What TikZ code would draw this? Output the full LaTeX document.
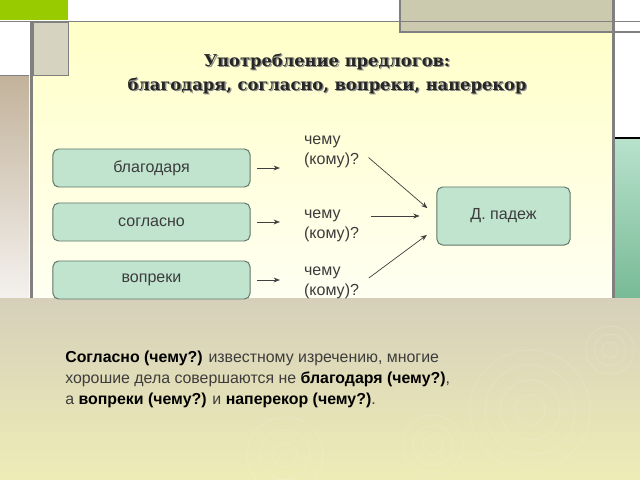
\documentclass[tikz,border=0pt]{standalone}
\usepackage{fontspec}
\setmainfont{Liberation Sans}
\newfontfamily\titlefont{DejaVu Serif}
\usetikzlibrary{arrows.meta,positioning}

\definecolor{boxfill}{RGB}{192,228,206}
\definecolor{boxline}{RGB}{98,118,104}
\definecolor{frame}{RGB}{128,128,128}
\definecolor{leaf}{RGB}{153,204,0}
\definecolor{sand}{RGB}{203,201,174}
\definecolor{textgray}{RGB}{60,60,60}

\newcommand\prepbf[1]{\textbf{\color{black}#1}}

\begin{document}
\begin{tikzpicture}[x=0.025cm, y=-0.025cm,
  prep/.style={draw=boxline, fill=boxfill, line width=0.7pt, rounded corners=4pt,
    minimum width=4.925cm, minimum height=0.95cm, text=textgray,
    font=\fontsize{11.4pt}{14pt}\selectfont},
  quest/.style={anchor=west, align=left, text=textgray, inner sep=2pt,
    font=\fontsize{11.4pt}{14.2pt}\selectfont},
  arr/.style={-{Stealth[length=4.5pt,width=3.5pt]}, draw=black!75, line width=0.5pt},
  ripple/.style={draw=white, opacity=0.12, line width=0.8pt}]
\useasboundingbox (0,0) rectangle (640,480);

% background
\fill[white] (0,0) rectangle (640,480);
\fill[leaf] (0,0) rectangle (68,20);
\fill[sand] (400,0) rectangle (613,32);
\shade[top color={rgb,255:red,255;green,255;blue,200}, bottom color={rgb,255:red,255;green,255;blue,242}]
  (33,22) rectangle (612,298);
\fill[sand] (400,22) rectangle (612,32);
\shade[top color={rgb,255:red,194;green,178;blue,154}, bottom color={rgb,255:red,244;green,241;blue,238}]
  (0,75) rectangle (29,298);
\filldraw[fill={rgb,255:red,214;green,212;blue,192}, draw=frame, line width=0.7pt]
  (33,22) rectangle (68,75);
\shade[top color={rgb,255:red,184;green,226;blue,204}, bottom color={rgb,255:red,120;green,186;blue,150}]
  (615,138) rectangle (640,298);
\draw[black, line width=0.8pt] (615,138) -- (640,138);
\shade[top color={rgb,255:red,214;green,208;blue,186}, bottom color={rgb,255:red,238;green,236;blue,182}]
  (0,298) rectangle (640,480);
\draw[frame, line width=1.4pt] (0,21.5) -- (640,21.5);
\draw[frame, line width=1pt] (400,0) -- (400,32) -- (640,32);
\draw[frame, line width=2.1pt] (31.5,21) -- (31.5,298);
\draw[frame, line width=2.1pt] (613.5,0) -- (613.5,298);
\draw[frame, line width=0.7pt] (0,75) -- (29,75);

% ripples
\foreach \r in {8,16,24} \draw[ripple] (610,350) circle (\r);
\foreach \r in {15,30,45,60} \draw[ripple] (530,410) circle (\r);
\foreach \r in {10,20,30} \draw[ripple] (433,445) circle (\r);
\foreach \r in {12,25,38} \draw[ripple] (285,455) circle (\r);

% title
\node[align=center, text=black!45, font=\titlefont\bfseries\fontsize{11.6pt}{17pt}\selectfont]
  at (328.3,75.3) {Употребление предлогов:\\благодаря, согласно, вопреки, наперекор};
\node[align=center, text=black!85, font=\titlefont\bfseries\fontsize{11.6pt}{17pt}\selectfont]
  (title) at (327,74) {Употребление предлогов:\\благодаря, согласно, вопреки, наперекор};

% prepositions
\node[prep] (blag) at (151.5,168) {благодаря};
\node[prep] (sogl) at (151.5,222) {согласно};
\node[prep] (vopr) at (151.5,280) {вопреки};
\node[prep, minimum width=3.325cm, minimum height=1.45cm] (dat) at (503.5,216) {Д. падеж};

\node[quest] (q1) at (301,152) {чему\\(кому)?};
\node[quest] (q2) at (301,226) {чему\\(кому)?};
\node[quest] (q3) at (301,283) {чему\\(кому)?};

\draw[arr, shorten <=4.5pt, shorten >=15pt] (blag.east) -- (blag.east -| q1.west);
\draw[arr, shorten <=4.5pt, shorten >=15pt] (sogl.east) -- (sogl.east -| q2.west);
\draw[arr, shorten <=4.5pt, shorten >=15pt] (vopr.east) -- (vopr.east -| q3.west);

\draw[arr, shorten <=6pt, shorten >=8.5pt] (q1.east) -- (dat.west);
\draw[arr, shorten <=6pt, shorten >=12pt] (q2.east |- dat.west) -- (dat.west);
\draw[arr, shorten <=6pt, shorten >=8.5pt] (q3.east) -- (dat.190);

% example sentence
\node[anchor=north west, align=left, text=textgray, inner sep=0pt,
  font=\fontsize{11.3pt}{14.8pt}\selectfont] (note) at (65,351)
  {\prepbf{Согласно (чему?)} известному изречению, многие\\
   хорошие дела совершаются не \prepbf{благодаря (чему?)},\\
   а \prepbf{вопреки (чему?)} и \prepbf{наперекор (чему?)}.};
\end{tikzpicture}
\end{document}
